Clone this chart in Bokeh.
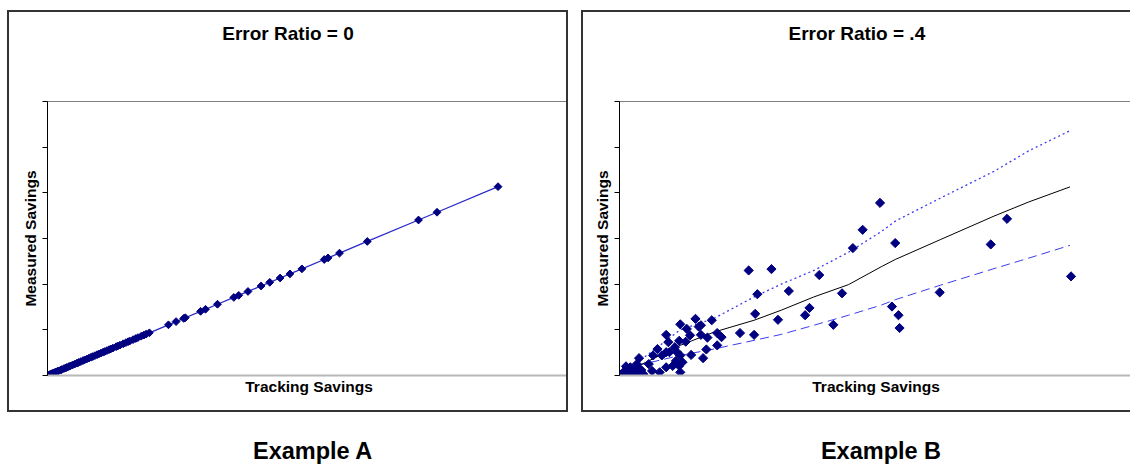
import math
from bokeh.plotting import figure
from bokeh.layouts import row, column
from bokeh.models import FixedTicker, Range1d, ColumnDataSource
from bokeh.embed import file_html
from bokeh.resources import INLINE
from bokeh.core.properties import value

FONT = "Liberation Sans"

# ---------------- data ----------------
# Example A: error ratio 0 -> measured equals tracking
a_tracking = [0.1, 0.2, 0.3, 0.4, 0.5, 0.55, 0.65, 0.75, 0.9, 1.0, 1.2, 1.3, 1.5, 1.65,
              1.75, 1.95, 2.1, 2.3, 2.5, 2.7, 2.85, 3.05, 3.25, 3.4, 3.6, 3.8, 4.0, 4.15,
              4.35, 4.55, 4.7, 4.9, 5.1, 5.25, 5.45, 5.65, 5.8, 6.0, 6.3, 6.45, 6.65, 6.95,
              7.2, 7.4, 7.55, 7.85, 8.1, 8.3, 8.6, 8.85, 9.05, 9.35, 11.1, 11.8, 12.5, 12.65,
              14.05, 14.5, 15.6, 17.1, 17.55, 18.4, 19.6, 20.4, 21.35, 22.25, 23.35, 25.4,
              25.75, 26.8, 29.35, 34.05, 35.75, 41.35]
a_measured = [0.1, 0.2, 0.3, 0.4, 0.5, 0.55, 0.65, 0.75, 0.9, 1.0, 1.2, 1.3, 1.5, 1.65,
              1.75, 1.95, 2.1, 2.3, 2.5, 2.7, 2.85, 3.05, 3.25, 3.4, 3.6, 3.8, 4.0, 4.15,
              4.35, 4.55, 4.7, 4.9, 5.1, 5.25, 5.45, 5.65, 5.8, 6.0, 6.3, 6.45, 6.65, 6.95,
              7.2, 7.4, 7.55, 7.85, 8.1, 8.3, 8.6, 8.85, 9.05, 9.35, 11.1, 11.8, 12.5, 12.65,
              14.05, 14.5, 15.6, 17.1, 17.55, 18.4, 19.6, 20.4, 21.35, 22.25, 23.35, 25.4,
              25.75, 26.8, 29.35, 34.05, 35.75, 41.35]

# Example B: error ratio .4
b_tracking = [11.9, 14.0, 12.7, 15.6, 18.4, 20.5, 21.5, 22.4, 24.0, 12.5, 14.6, 17.1,
              17.5, 19.7, 11.1, 12.4, 9.0, 9.4, 9.0, 8.0, 7.7, 7.0, 8.5, 7.3, 7.5, 6.2,
              5.6, 6.5, 7.5, 8.1, 4.3, 4.5, 5.5, 6.1, 3.5, 4.3, 5.1, 5.3, 6.6, 5.6, 5.8,
              5.2, 4.9, 4.3, 3.1, 1.8, 2.7, 3.0, 2.2, 3.7, 5.6, 1.6, 1.0, 0.7, 0.4, 1.3,
              0.9, 1.2, 0.6, 1.8, 4.6, 3.9, 5.5, 25.4, 25.1, 25.7, 25.8, 29.5, 34.2, 35.7,
              41.6, 0.3, 0.5, 1.5, 2.0, 0.2]
b_measured = [23.0, 23.3, 17.8, 18.5, 22.0, 18.0, 27.9, 31.9, 37.8, 13.5, 12.2, 13.2,
              14.8, 11.1, 9.3, 8.9, 9.3, 8.4, 6.6, 5.7, 3.8, 12.4, 12.1, 10.7, 11.0, 10.2,
              11.2, 8.8, 8.9, 8.3, 8.9, 7.3, 7.6, 7.4, 5.8, 5.1, 6.2, 5.1, 4.5, 4.4, 2.9,
              3.2, 2.1, 1.8, 4.4, 3.8, 2.5, 1.0, 0.3, 0.7, 0.7, 2.5, 1.8, 1.0, 0.3, 1.0,
              0.1, 0.1, 2.0, 1.4, 5.1, 4.4, 2.1, 29.0, 15.1, 13.2, 10.4, 18.2, 28.7, 34.3,
              21.7, 0.6, 0.3, 0.5, 1.2, 0.2]

b_line_x = [0.5, 2.0, 5.6, 8.7, 12.4, 14.9, 17.9, 21.1, 24.1, 25.4, 29.6, 34.5, 37.7, 41.5]
b_trend = [0.6, 2.4, 6.6, 9.5, 12.1, 14.3, 17.2, 19.9, 23.8, 25.4, 29.8, 34.9, 38.0, 41.3]
b_upper = [0.8, 3.5, 10.0, 12.5, 17.2, 20.0, 23.0, 27.0, 31.5, 33.8, 38.9, 44.7, 49.2, 53.6]
b_lower = [0.5, 2.4, 4.4, 5.8, 7.7, 9.0, 11.0, 13.2, 15.4, 16.6, 19.8, 23.4, 25.7, 28.5]

y_ticks = [0, 10, 20, 30, 40, 50, 60]

titles = ["Error Ratio = 0", "Error Ratio = .4"]
captions = ["Example A", "Example B"]
x_title = "Tracking Savings"
y_title = "Measured Savings"

MARKER = "#000080"
BLUE = "#3c3cf0"
BOX = "2px solid #333333"


def text_fig(width, height, text, cx, cy, size, css):
    """A small axis-less canvas that only carries one text."""
    t = figure(width=width, height=height, x_range=Range1d(0, width), y_range=Range1d(0, height),
               output_backend="svg", toolbar_location=None,
               x_axis_location=None, y_axis_location=None,
               min_border=0, min_border_left=0, min_border_right=0,
               min_border_top=0, min_border_bottom=0)
    t.grid.visible = False
    t.outline_line_color = None
    t.styles = css
    t.text(x=[cx], y=[cy], text=[text], text_font=value(FONT), text_font_size=size,
           text_font_style="bold", text_align="center", text_baseline="middle",
           text_color="black")
    return t


def panel(width, x_end, min_left, css):
    p = figure(width=width, height=352, x_range=Range1d(0, x_end), y_range=Range1d(0, 60),
               output_backend="svg", toolbar_location=None,
               min_border_left=min_left, min_border_right=0,
               min_border_top=41, min_border_bottom=37)
    p.styles = css
    p.grid.visible = False
    p.outline_line_color = "#808080"
    p.outline_line_width = 1
    p.background_fill_color = "white"
    p.border_fill_color = "white"

    xa = p.xaxis[0]
    xa.ticker = FixedTicker(ticks=[])
    xa.axis_label = x_title
    xa.axis_label_text_font = FONT
    xa.axis_label_text_font_size = "15.5px"
    xa.axis_label_text_font_style = "bold"
    xa.axis_label_text_color = "black"
    xa.axis_label_standoff = 2
    xa.major_tick_out = 0
    xa.major_tick_in = 0
    xa.minor_tick_out = 0
    xa.minor_tick_in = 0
    xa.major_label_standoff = 0
    xa.axis_line_color = "#b8b8b8"
    xa.axis_line_width = 2

    ya = p.yaxis[0]
    ya.ticker = FixedTicker(ticks=[], minor_ticks=y_ticks)
    ya.axis_label = y_title
    ya.axis_label_text_font = FONT
    ya.axis_label_text_font_size = "15.5px"
    ya.axis_label_text_font_style = "bold"
    ya.axis_label_text_color = "black"
    ya.axis_label_standoff = 4
    ya.major_tick_out = 0
    ya.major_tick_in = 0
    ya.minor_tick_out = 5
    ya.minor_tick_in = 0
    ya.minor_tick_line_color = "black"
    ya.major_label_standoff = 0
    ya.axis_line_color = "black"
    return p


# ---------------- Example A ----------------
ta = text_fig(561, 50, titles[0], 258, 29, "19px",
              {"border-top": BOX, "border-left": BOX, "border-right": BOX})
pa = panel(561, 48, 38, {"border-left": BOX, "border-right": BOX, "border-bottom": BOX})
src_a = ColumnDataSource(dict(x=a_tracking, y=a_measured))
pa.line("x", "y", source=src_a, line_color="#2a2ac8", line_width=1.3)
pa.scatter("x", "y", source=src_a, marker="square", angle=math.pi / 4, size=5.5,
           fill_color=MARKER, line_color=MARKER)

# ---------------- Example B ----------------
tb = text_fig(549, 50, titles[1], 254, 29, "19px", {"border-top": BOX, "border-left": BOX})
pb = panel(549, 47.26, 36, {"border-left": BOX, "border-bottom": BOX})
src_lines = ColumnDataSource(dict(x=b_line_x, trend=b_trend, upper=b_upper, lower=b_lower))
pb.line("x", "upper", source=src_lines, line_color=BLUE, line_width=1.3, line_dash="2 3")
pb.line("x", "lower", source=src_lines, line_color=BLUE, line_width=1, line_dash="9 5")
pb.line("x", "trend", source=src_lines, line_color="black", line_width=1)
src_b = ColumnDataSource(dict(x=b_tracking, y=b_measured))
pb.scatter("x", "y", source=src_b, marker="square", angle=math.pi / 4, size=6.5,
           fill_color=MARKER, line_color=MARKER)

ca = text_fig(561, 53, captions[0], 287, 15, "23.5px", {})
cb = text_fig(549, 53, captions[1], 282, 15, "23.5px", {})

layout = row(column(ta, pa, ca), column(tb, pb, cb), spacing=13, margin=(10, 0, 0, 7))

open("out.html", "w").write(file_html(layout, INLINE))
